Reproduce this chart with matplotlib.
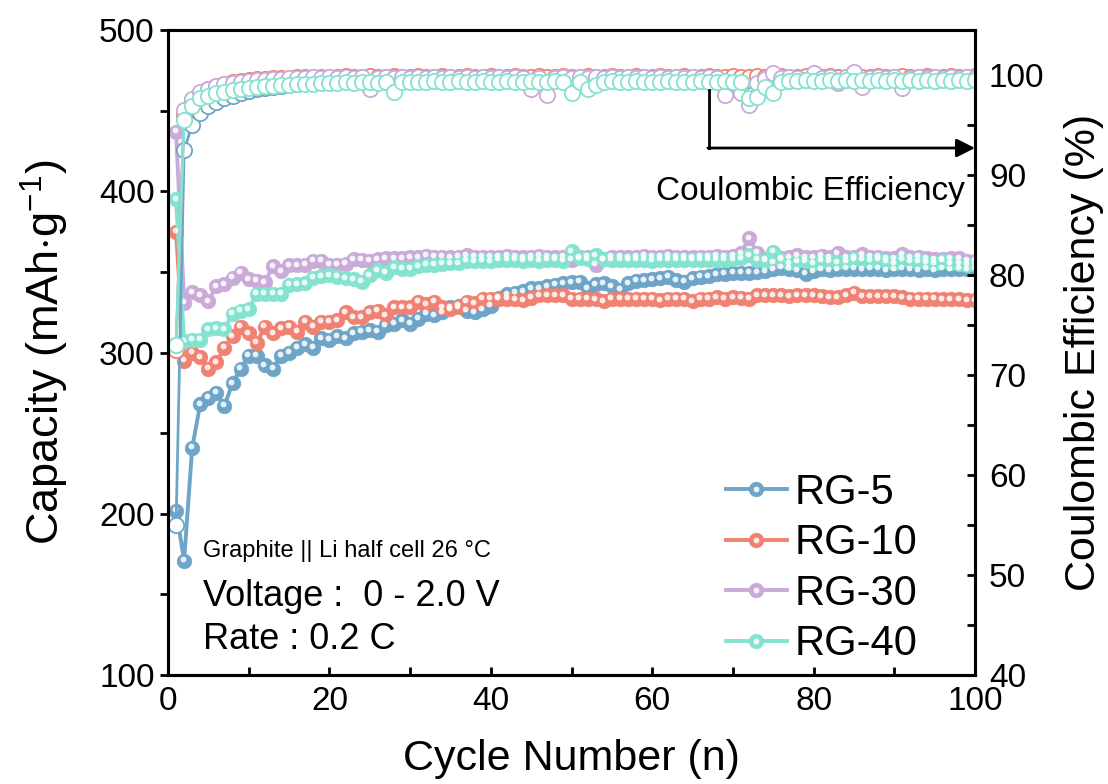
import numpy as np
import matplotlib
matplotlib.use('Agg')
import matplotlib.pyplot as plt
from matplotlib.transforms import offset_copy
from matplotlib.ticker import MultipleLocator

plt.rcParams['font.family'] = ['Liberation Sans', 'DejaVu Sans']
plt.rcParams['mathtext.fontset'] = 'custom'
plt.rcParams['mathtext.rm'] = 'Liberation Sans'
plt.rcParams['mathtext.it'] = 'Liberation Sans:italic'

# Dane: pojemnosc (mAh/g) i sprawnosc kulombowska (%) dla cykli 1-100
cykle = np.arange(1, 101)

cap_rg5 = [202, 171, 241, 268, 272, 275, 267, 281, 290, 298,
           298, 292, 290, 298, 300, 303, 305, 303, 309, 308,
           310, 309, 312, 313, 314, 313, 317, 318, 320, 318,
           321, 324, 323, 325, 328, 329, 326, 325, 327, 329,
           334, 336, 337, 338, 340, 340, 341, 342, 343, 343.5,
           344, 340, 342.5, 343, 341, 339, 343, 344.5, 345, 345.5,
           346, 347, 345, 344, 346, 347, 347.5, 348.5, 349, 349.5,
           349.5, 349.5, 350, 350.5, 351.5, 352.5, 352, 351, 349, 350.5,
           351.5, 351, 351.5, 352, 352, 351.5, 352, 352, 351, 351.5,
           352, 351.5, 351, 352, 351, 352, 351.5, 352, 351.5, 352]

cap_rg10 = [375, 295, 300, 297, 290, 294, 303, 310, 316, 312,
            306, 316, 312, 315, 316, 313, 319, 316, 319, 319,
            320, 325, 322, 322, 325, 326, 323, 328, 328, 328,
            331.5, 330, 331.5, 328, 327, 328, 331.5, 330.5, 333.5, 333.5,
            333.5, 333.5, 333, 332.5, 334, 335.5, 335.5, 335.5, 335.5, 333.5,
            333.5, 333.5, 333, 332, 333.5, 333.5, 333.5, 333.5, 333.5, 333.5,
            332.5, 333.5, 333.5, 333.5, 332, 333.5, 333.5, 334.5, 333.5, 334.5,
            334, 333.5, 335.5, 335.5, 335.5, 335.5, 335, 335.5, 335.5, 335.5,
            335, 334.5, 334.5, 335.5, 337, 335, 335, 335, 335, 335,
            334.5, 333.5, 333.5, 333.5, 333.5, 333, 333, 333, 332.5, 332.5]

cap_rg30 = [437, 331, 337.5, 335.5, 332, 341, 342.5, 346.5, 349.5, 345.5,
            344.5, 343.5, 353.5, 350.5, 354, 354, 354.5, 357, 357, 354.5,
            354.5, 355, 358, 357.5, 357, 358, 358.5, 358.5, 358.5, 359,
            359, 360, 359.5, 359.5, 359, 359.5, 360.5, 359.5, 359.5, 359.5,
            359.5, 360, 359.5, 359, 359.5, 360, 359.5, 359, 359.5, 357.5,
            359, 359.5, 354.5, 358, 359.5, 359.5, 359, 359.5, 360, 359.5,
            359.5, 360, 359.5, 359.5, 359, 359.5, 359.5, 360, 359.5, 360,
            361.5, 371, 362, 358, 356, 358.5, 359, 360.5, 359, 359,
            360, 359, 361.5, 359, 359, 361, 359.5, 359.5, 358.5, 358.5,
            361, 359, 359.5, 358.5, 358, 358, 358.5, 358.5, 357, 357]

cap_rg40 = [395, 307, 308, 308, 314.5, 315, 314.5, 324, 326, 327,
            336.5, 336.5, 336.5, 336.5, 342, 342.5, 343, 346.5, 347.5, 348,
            347, 346, 345.5, 344, 348, 351, 349.5, 353, 352, 352,
            353.5, 354.5, 354.5, 355, 355.5, 355.5, 357, 356.5, 357, 356.5,
            357.5, 357.5, 357.5, 357, 357.5, 357, 357.5, 357.5, 357, 363,
            358.5, 358, 360.5, 358, 357.5, 357.5, 357.5, 357.5, 357.5, 357,
            357.5, 357.5, 357.5, 357.5, 357.5, 357.5, 357.5, 357.5, 357.5, 358,
            358.5, 360.5, 357.5, 357, 362.5, 357.5, 355.5, 356.5, 356.5, 355.5,
            357, 356.5, 356, 356.5, 358, 357.5, 357, 357.5, 356.5, 355.5,
            358, 356.5, 356.5, 356, 355.5, 357, 355.5, 355, 354.5, 355]

ce_rg5 = [55.0, 92.5, 95.0, 96.2, 96.9, 97.3, 97.7, 97.9, 98.2, 98.4,
          98.6, 98.7, 98.8, 98.9, 99.0, 99.1, 99.2, 99.3, 99.3, 99.4,
          99.4, 99.5, 99.5, 99.5, 99.7, 99.6, 99.6, 99.6, 99.6, 99.7,
          99.6, 99.7, 99.6, 99.6, 99.7, 99.6, 99.6, 99.7, 99.6, 99.6,
          99.7, 99.6, 99.7, 99.6, 99.6, 99.7, 99.6, 99.7, 99.6, 99.6,
          99.6, 99.7, 99.6, 99.7, 99.6, 99.6, 99.7, 99.6, 99.6, 99.7,
          99.6, 99.6, 99.7, 99.6, 99.6, 99.7, 99.6, 99.6, 99.7, 99.6,
          99.6, 99.5, 99.6, 99.7, 99.6, 99.6, 99.7, 99.6, 99.6, 99.7,
          99.6, 99.6, 99.7, 99.6, 99.6, 99.7, 99.6, 99.6, 99.7, 99.6,
          99.6, 99.7, 99.6, 99.6, 99.7, 99.6, 99.6, 99.7, 99.6, 99.6]

ce_rg10 = [72.5, 96.0, 97.5, 98.2, 98.6, 98.9, 99.1, 99.3, 99.4, 99.5,
           99.6, 99.6, 99.7, 99.7, 99.7, 99.8, 99.8, 99.8, 99.8, 99.8,
           99.8, 99.9, 99.8, 99.8, 99.9, 99.8, 99.8, 99.9, 99.8, 99.8,
           99.9, 99.8, 99.8, 99.9, 99.8, 99.8, 99.9, 99.8, 99.8, 99.9,
           99.8, 99.8, 99.9, 99.8, 99.8, 99.9, 99.8, 99.8, 99.9, 99.8,
           99.8, 99.9, 99.8, 99.8, 99.9, 99.8, 99.8, 99.9, 99.8, 99.8,
           99.9, 99.8, 99.8, 99.9, 99.8, 99.8, 99.9, 99.8, 99.8, 99.9,
           99.8, 99.8, 99.9, 99.8, 99.8, 99.9, 99.8, 99.8, 99.9, 99.8,
           99.8, 99.9, 99.8, 99.8, 99.9, 99.8, 99.8, 99.9, 99.8, 99.8,
           99.9, 99.8, 99.8, 99.9, 99.8, 99.8, 99.9, 99.8, 99.8, 99.9]

ce_rg30 = [73.0, 96.5, 97.6, 98.3, 98.6, 98.9, 99.1, 99.2, 99.3, 99.4,
           99.5, 99.5, 99.6, 99.6, 99.7, 99.7, 99.7, 99.8, 99.7, 99.8,
           99.7, 99.8, 99.7, 99.8, 98.6, 99.7, 99.8, 99.7, 99.8, 99.7,
           99.8, 99.7, 99.8, 99.7, 99.8, 99.7, 99.8, 99.7, 99.8, 99.7,
           99.8, 99.7, 99.8, 99.7, 98.6, 99.7, 98.0, 99.7, 99.8, 99.7,
           99.8, 99.7, 99.8, 99.7, 99.8, 99.7, 99.8, 99.7, 99.8, 99.7,
           99.8, 99.7, 99.8, 99.7, 99.8, 99.7, 99.8, 99.7, 98.0, 99.2,
           98.2, 97.0, 99.2, 99.6, 100.2, 99.7, 99.8, 99.7, 99.5, 100.2,
           99.7, 99.8, 99.2, 99.8, 100.3, 98.8, 99.7, 99.8, 99.7, 99.8,
           98.7, 99.7, 99.8, 99.7, 99.8, 99.7, 99.8, 99.7, 99.8, 99.7]

ce_rg40 = [73.0, 95.5, 96.9, 97.7, 97.9, 98.2, 98.3, 98.5, 98.6, 98.7,
           98.8, 98.9, 98.9, 99.0, 99.0, 99.1, 99.1, 99.1, 99.2, 99.2,
           99.2, 99.3, 99.2, 99.3, 99.3, 99.2, 99.3, 98.3, 99.3, 99.3,
           99.3, 99.3, 99.4, 99.3, 99.3, 99.4, 99.3, 99.3, 99.4, 99.3,
           99.3, 99.4, 99.3, 99.3, 99.4, 99.3, 99.3, 99.4, 99.3, 98.2,
           99.3, 98.6, 99.0, 99.3, 99.4, 99.3, 99.3, 99.4, 99.3, 99.3,
           99.3, 99.4, 99.3, 99.3, 99.3, 99.4, 99.3, 99.3, 99.4, 99.3,
           99.3, 97.7, 97.8, 98.8, 98.2, 99.3, 99.4, 99.4, 99.5, 99.4,
           99.4, 99.5, 99.4, 99.5, 99.4, 99.5, 99.4, 99.5, 99.4, 99.5,
           99.4, 99.5, 99.4, 99.5, 99.4, 99.5, 99.4, 99.5, 99.4, 99.5]

etykiety = ['RG-5', 'RG-10', 'RG-30', 'RG-40']
kolory = ['#6EA4C8', '#EF8272', '#C9AAD9', '#84E3CF']
pojemnosci = [cap_rg5, cap_rg10, cap_rg30, cap_rg40]
sprawnosci = [ce_rg5, ce_rg10, ce_rg30, ce_rg40]

fig = plt.figure(figsize=(11.08, 7.84), dpi=100)
ax = fig.add_axes([0.1516, 0.139, 0.7284, 0.8227])
ax2 = ax.twinx()

# przesuniecie dla "odblasku" na kulkach
blask = offset_copy(ax.transData, fig=fig, x=-1.0, y=1.0, units='points')

uchwyty = []
for y, c in zip(pojemnosci, kolory):
    l, = ax.plot(cykle, y, '-o', color=c, lw=2.8, ms=10.5, mec=c, mew=0.5, zorder=3)
    h, = ax.plot(cykle, y, 'o', color='white', ms=4.2, alpha=0.85, mec='none',
                 transform=blask, zorder=4)
    uchwyty.append((l, h))

for y, c in zip(sprawnosci, kolory):
    ax2.plot(cykle, y, '-o', color=c, lw=2, ms=11, mfc='white', mec=c, mew=1.3)

# strzalka -> os prawa
ax2.plot([67, 67], [98.5, 92.7], color='black', lw=2)
ax2.annotate('', xy=(100, 92.7), xytext=(66.9, 92.7), annotation_clip=False,
             arrowprops=dict(arrowstyle='-|>', color='black', lw=2, mutation_scale=28,
                             shrinkA=0, shrinkB=0))
ax2.text(79.6, 88.4, 'Coulombic Efficiency', fontsize=24, ha='center', va='center')

# opis warunkow
ax.text(4.3, 177, 'Graphite || Li half cell 26 °C', fontsize=17, va='center')
ax.text(4.3, 149, 'Voltage :  0 - 2.0 V', fontsize=26, va='center')
ax.text(4.3, 122, 'Rate : 0.2 C', fontsize=26, va='center')

ax.set_xlim(0, 100)
ax.set_ylim(100, 500)
ax2.set_ylim(40, 104.5)

ax.xaxis.set_major_locator(MultipleLocator(20))
ax.xaxis.set_minor_locator(MultipleLocator(10))
ax.yaxis.set_major_locator(MultipleLocator(100))
ax.yaxis.set_minor_locator(MultipleLocator(50))
ax2.yaxis.set_major_locator(MultipleLocator(10))
ax2.yaxis.set_minor_locator(MultipleLocator(5))

ax.tick_params(axis='x', which='both', direction='in', length=6, width=2, labelsize=24, pad=8)
ax.tick_params(axis='y', which='both', direction='out', length=6, width=2, labelsize=24)
ax2.tick_params(axis='y', which='both', direction='in', length=6, width=2, labelsize=24, pad=10)
ax.tick_params(top=False)

for a in (ax, ax2):
    for s in a.spines.values():
        s.set_linewidth(2.2)

ax.set_xlabel('Cycle Number (n)', fontsize=31, labelpad=16)
ax.set_ylabel(r'Capacity (mAh$\cdot$g$^{-1}$)', fontsize=32.5, labelpad=20)
ax2.set_ylabel('Coulombic Efficiency (%)', fontsize=31, labelpad=14)

ax.legend(uchwyty, etykiety, loc='lower right', bbox_to_anchor=(0.96, -0.022),
          frameon=False, fontsize=30, handlelength=1.45, handletextpad=0.2,
          labelspacing=0.25, borderaxespad=0.2)

plt.savefig('out.png', dpi=100)
